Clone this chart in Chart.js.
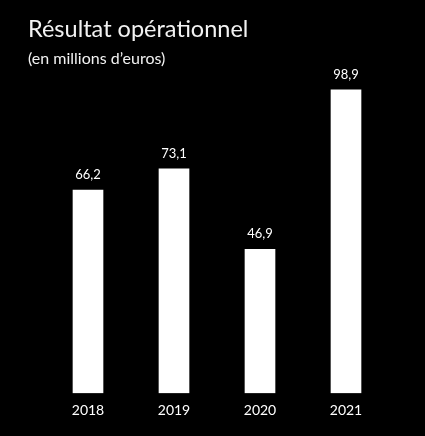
<!DOCTYPE html>
<html>
<head>
<meta charset="utf-8">
<script src="https://cdn.jsdelivr.net/npm/chart.js@4"></script>
<style>
    html, body { margin: 0; padding: 0; background: #000; overflow: hidden; }
    canvas { display: block; }
</style>
</head>
<body>
<canvas id="result-chart" width="425" height="436" style="width:425px;height:436px"></canvas>
<script>
const years = ['2018', '2019', '2020', '2021'];
const resultValues = [66.2, 73.1, 46.9, 98.9];
const valueLabels = ['66,2', '73,1', '46,9', '98,9'];

const fontFamily = 'Lato, "Open Sans", sans-serif';

// value above each bar
const valueLabelPlugin = {
    id: 'valueLabels',
    afterDatasetsDraw(chart) {
        const ctx = chart.ctx;
        const meta = chart.getDatasetMeta(0);
        ctx.save();
        ctx.fillStyle = '#ffffff';
        ctx.font = '13px ' + fontFamily;
        ctx.textAlign = 'center';
        ctx.textBaseline = 'middle';
        meta.data.forEach((bar, i) => {
            ctx.fillText(valueLabels[i], bar.x, bar.y - 15);
        });
        ctx.restore();
    }
};

new Chart(document.getElementById('result-chart'), {
    type: 'bar',
    data: {
        labels: years,
        datasets: [{
            data: resultValues,
            backgroundColor: '#ffffff',
            barThickness: 30
        }]
    },
    options: {
        responsive: false,
        animation: false,
        devicePixelRatio: 1,
        layout: {
            padding: {top: 15, left: 28, right: 36, bottom: 8}
        },
        plugins: {
            legend: {display: false},
            tooltip: {enabled: false},
            title: {
                display: true,
                align: 'start',
                text: 'Résultat opérationnel',
                color: '#f2f2f2',
                font: {family: fontFamily, size: 23.5, weight: 'normal'},
                padding: {top: 0, bottom: 6}
            },
            subtitle: {
                display: true,
                align: 'start',
                text: '(en millions d\u2019euros)',
                color: '#f2f2f2',
                font: {family: fontFamily, size: 16, weight: 'normal'},
                padding: {top: 0, bottom: 18}
            }
        },
        scales: {
            x: {
                grid: {display: false, drawTicks: false},
                border: {display: false},
                ticks: {
                    color: '#ffffff',
                    padding: 9,
                    font: {family: fontFamily, size: 14}
                }
            },
            y: {
                min: 0,
                max: 100,
                grid: {display: false, drawTicks: false},
                border: {display: false},
                ticks: {display: false},
                afterFit(scale) {
                    scale.width = 17;
                }
            }
        }
    },
    plugins: [valueLabelPlugin]
});
</script>
</body>
</html>
